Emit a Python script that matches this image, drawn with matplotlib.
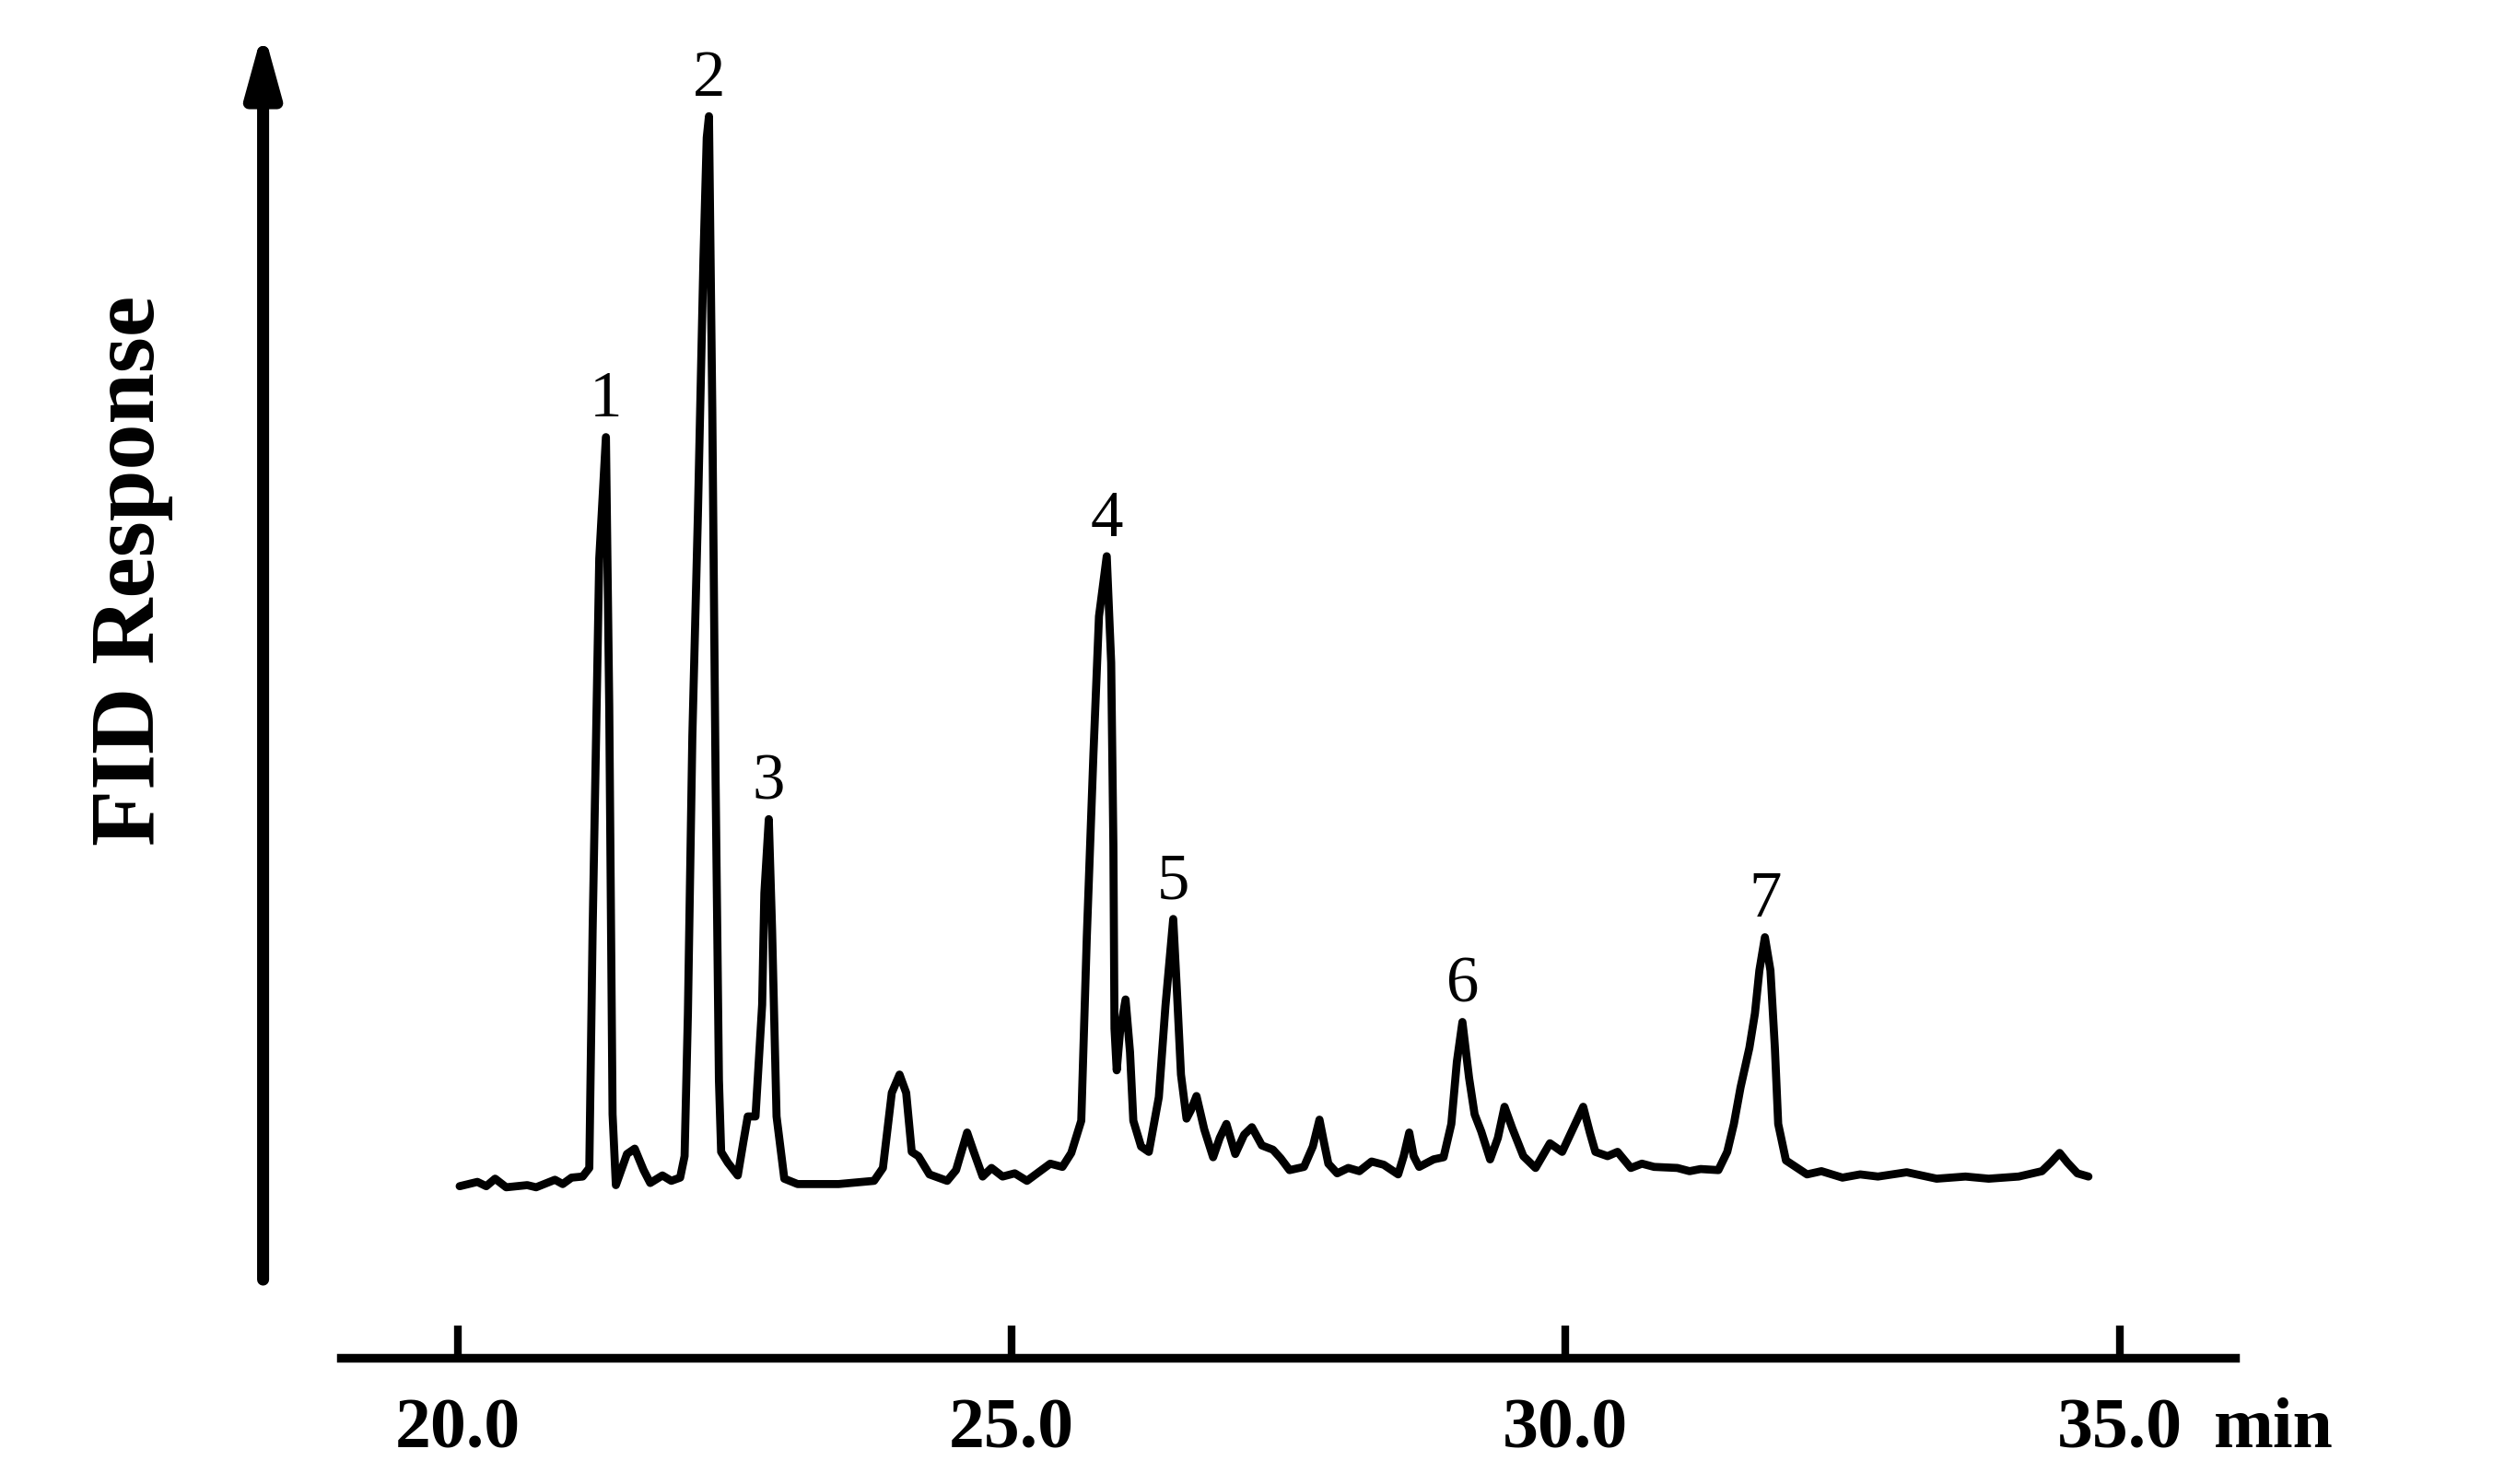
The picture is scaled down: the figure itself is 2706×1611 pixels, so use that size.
import matplotlib
matplotlib.use("Agg")
import matplotlib.pyplot as plt

plt.rcParams['font.family'] = ['Liberation Serif', 'DejaVu Serif']

# retention time (min) and FID signal (arbitrary units, tallest peak ~100)
time_min = [20.02, 20.18, 20.26, 20.34, 20.44, 20.63, 20.71, 20.88, 20.95, 21.03,
            21.13, 21.19, 21.22, 21.28, 21.34, 21.37, 21.40, 21.43, 21.53, 21.60,
            21.68, 21.74, 21.85, 21.93, 22.01, 22.05, 22.08, 22.12, 22.17, 22.22,
            22.25, 22.27, 22.30, 22.33, 22.36, 22.38, 22.44, 22.53, 22.58, 22.62,
            22.69, 22.75, 22.77, 22.81, 22.84, 22.88, 22.95, 23.07, 23.44, 23.76,
            23.84, 23.92, 23.99, 24.05, 24.10, 24.16, 24.26, 24.42, 24.50, 24.60,
            24.66, 24.74, 24.82, 24.92, 25.03, 25.14, 25.35, 25.46, 25.54, 25.63,
            25.68, 25.74, 25.79, 25.86, 25.90, 25.92, 25.93, 25.95, 25.98, 26.03,
            26.07, 26.10, 26.17, 26.24, 26.33, 26.39, 26.46, 26.49, 26.53, 26.58,
            26.62, 26.67, 26.74, 26.82, 26.88, 26.94, 27.02, 27.10, 27.17, 27.26,
            27.36, 27.43, 27.51, 27.64, 27.72, 27.78, 27.82, 27.86, 27.94, 28.04,
            28.14, 28.25, 28.36, 28.49, 28.54, 28.59, 28.63, 28.68, 28.81, 28.90,
            28.97, 29.02, 29.07, 29.13, 29.18, 29.24, 29.32, 29.39, 29.45, 29.52,
            29.62, 29.73, 29.86, 29.97, 30.07, 30.16, 30.22, 30.27, 30.38, 30.47,
            30.59, 30.69, 30.80, 31.01, 31.12, 31.22, 31.38, 31.46, 31.52, 31.58,
            31.66, 31.71, 31.75, 31.80, 31.85, 31.89, 31.92, 31.99, 32.18, 32.31,
            32.50, 32.66, 32.82, 33.08, 33.35, 33.61, 33.82, 34.09, 34.30, 34.38,
            34.46, 34.53, 34.62, 34.72]
response = [0.2, 0.6, 0.2, 0.9, 0.1, 0.3, 0.1, 0.8, 0.4, 1.0,
            1.1, 1.9, 24.0, 58.7, 70.0, 44.9, 6.9, 0.3, 3.2, 3.7,
            1.7, 0.5, 1.2, 0.7, 1.0, 3.0, 16.3, 42.1, 62.7, 86.5,
            97.9, 99.9, 72.6, 37.9, 10.1, 3.4, 2.4, 1.2, 4.3, 6.7,
            6.7, 17.1, 27.5, 34.4, 24.0, 6.7, 0.9, 0.4, 0.4, 0.7,
            1.9, 8.9, 10.6, 8.9, 3.4, 3.0, 1.3, 0.7, 1.7, 5.2,
            3.4, 1.1, 1.9, 1.1, 1.4, 0.7, 2.3, 2.0, 3.3, 6.3,
            23.4, 40.5, 53.3, 58.9, 49.0, 31.9, 14.9, 11.0, 14.6, 17.6,
            12.7, 6.3, 3.9, 3.4, 8.5, 17.0, 25.1, 19.1, 10.6, 6.5,
            7.3, 8.6, 5.5, 2.9, 4.7, 6.0, 3.2, 5.0, 5.7, 4.0,
            3.6, 2.8, 1.7, 2.0, 3.9, 6.4, 4.3, 2.3, 1.4, 1.9,
            1.6, 2.5, 2.2, 1.3, 3.0, 5.2, 3.0, 2.0, 2.7, 2.9,
            6.0, 11.8, 15.5, 10.3, 6.9, 5.3, 2.7, 4.7, 7.6, 5.6,
            3.0, 1.9, 4.2, 3.4, 5.6, 7.6, 5.2, 3.4, 3.0, 3.4,
            1.9, 2.3, 2.0, 1.9, 1.6, 1.8, 1.7, 3.4, 6.0, 9.4,
            13.1, 16.3, 20.3, 23.4, 20.3, 13.1, 6.0, 2.6, 1.3, 1.6,
            1.0, 1.3, 1.1, 1.5, 0.9, 1.1, 0.9, 1.1, 1.6, 2.4,
            3.3, 2.4, 1.4, 1.1]

peak_names = ['1', '2', '3', '4', '5', '6', '7']
peak_times = [21.34, 22.27, 22.81, 25.86, 26.46, 29.07, 31.80]

tick_values = [20.0, 25.0, 30.0, 35.0]


def apex(t0, window=0.06):
    """ highest point of the trace near a retention time """
    best = None
    for t, r in zip(time_min, response):
        if abs(t - t0) <= window and (best is None or r > best[1]):
            best = (t, r)
    return best


fig = plt.figure(figsize=(27.06, 16.11), dpi=100)
ax = fig.add_axes([370/2706, 137/1611, 2056/2706, 1434/1611])

ax.plot(time_min, response, color='black', lw=6.3,
        solid_joinstyle='round', solid_capstyle='round')

ax.set_xlim(18.948, 36.043)
ax.set_ylim(-15.79, 107.3)

for side in ['top', 'right', 'left']:
    ax.spines[side].set_visible(False)
ax.spines['bottom'].set_linewidth(6.8)

ax.set_yticks([])
ax.set_xticks(tick_values)
ax.set_xticklabels(["{:.1f}".format(v) for v in tick_values])
ax.tick_params(axis='x', direction='in', length=25, width=6, pad=31, labelsize=56)
for lab in ax.get_xticklabels():
    lab.set_fontweight('bold')

# unit next to the last tick label
ax.annotate('min', xy=(36.39, 0), xycoords=('data', 'axes fraction'),
            xytext=(0, -31), textcoords='offset points', ha='center', va='top',
            fontsize=56, fontweight='bold', annotation_clip=False)

# response axis drawn as an arrow
ax.annotate('', xy=(18.246, 108.0), xytext=(18.246, -8.5),
            arrowprops=dict(arrowstyle='-|>,head_length=40,head_width=11',
                            mutation_scale=1, lw=9.4, color='black',
                            shrinkA=0, shrinkB=0, joinstyle='round'),
            annotation_clip=False)

fig.text(143/2706, 1 - 619/1611, 'FID Response', rotation=90, ha='center',
         va='center', fontsize=72, fontweight='bold')

# peak numbers
for name, t0 in zip(peak_names, peak_times):
    t, r = apex(t0)
    ax.annotate(name, xy=(t, r), xytext=(0, 16), textcoords='offset points',
                ha='center', va='baseline', fontsize=51)

fig.savefig('out.png', dpi=100)
